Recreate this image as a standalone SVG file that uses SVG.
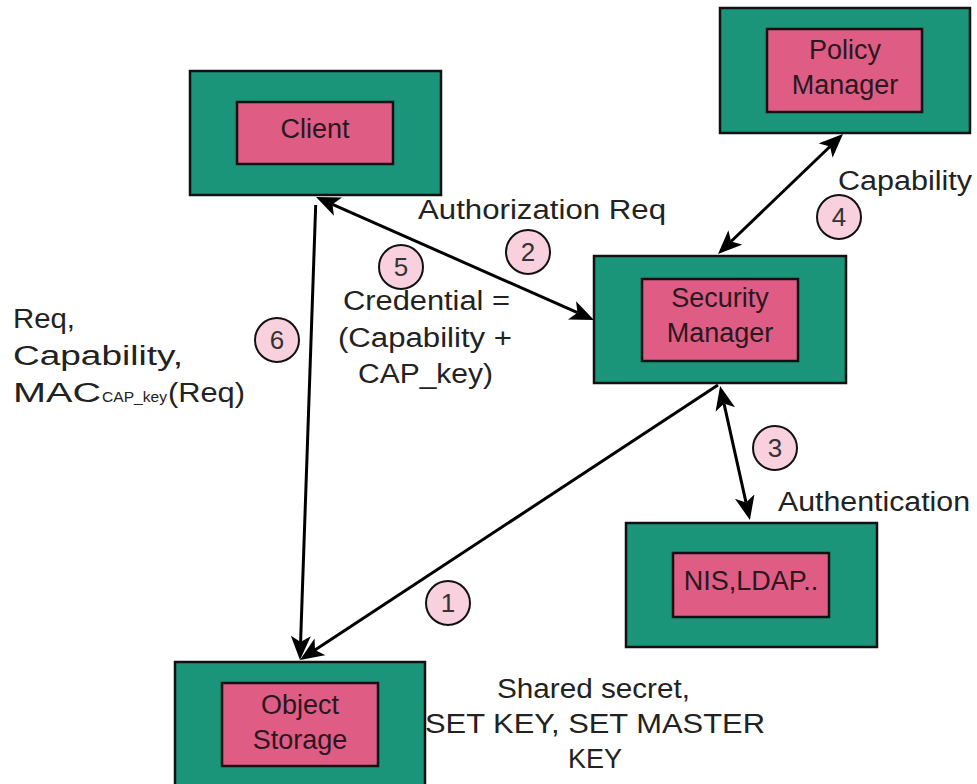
<svg xmlns="http://www.w3.org/2000/svg" width="977" height="784" viewBox="0 0 977 784">
  <style>
    .outer { fill: #1b957a; stroke: #111; stroke-width: 2.5; }
    .inner { fill: #df5c85; stroke: #111; stroke-width: 2.5; }
    .ntext { font-family: "Liberation Sans", Arial, sans-serif; font-size: 27px; fill: #2a1820; text-anchor: middle; }
    .label { font-family: "Liberation Sans", Arial, sans-serif; font-size: 27px; fill: #222; }
    .sub { font-family: "Liberation Sans", Arial, sans-serif; font-size: 15.5px; fill: #222; }
    .mid { text-anchor: middle; }
    .edge { stroke: #000; stroke-width: 3; fill: none; }
    .step circle { fill: #f9d0de; stroke: #111; stroke-width: 2; }
    .step text { font-family: "Liberation Sans", Arial, sans-serif; font-size: 26px; fill: #333; text-anchor: middle; }
  </style>
  <defs>
    <marker id="arrow" markerUnits="userSpaceOnUse" markerWidth="26" markerHeight="22" refX="6" refY="10" orient="auto-start-reverse">
      <path d="M0,0 L24,10 L0,20 L6,10 z" fill="#000"/>
    </marker>
  </defs>

  <rect width="977" height="784" fill="#fff"/>

  <!-- connectors -->
  <g id="connectors">
    <line class="edge" x1="332.5" y1="204.3" x2="577.5" y2="312.7" marker-start="url(#arrow)" marker-end="url(#arrow)"/>
    <line class="edge" x1="315.7" y1="205" x2="300.6" y2="642" marker-end="url(#arrow)"/>
    <line class="edge" x1="718" y1="385" x2="315" y2="650.1" marker-end="url(#arrow)"/>
    <line class="edge" x1="731" y1="241.5" x2="830" y2="146.5" marker-start="url(#arrow)" marker-end="url(#arrow)"/>
    <line class="edge" x1="724" y1="403.6" x2="746" y2="502.4" marker-start="url(#arrow)" marker-end="url(#arrow)"/>
  </g>

  <!-- nodes -->
  <g id="client">
    <rect class="outer" x="190" y="71" width="251" height="124"/>
    <rect class="inner" x="237" y="102" width="156" height="62"/>
    <text class="ntext" x="315" y="138">Client</text>
  </g>
  <g id="policy-manager">
    <rect class="outer" x="720" y="8" width="250" height="125"/>
    <rect class="inner" x="767" y="29" width="155" height="83"/>
    <text class="ntext" x="845" y="59">Policy</text>
    <text class="ntext" x="845" y="94">Manager</text>
  </g>
  <g id="security-manager">
    <rect class="outer" x="594" y="256" width="252" height="127"/>
    <rect class="inner" x="642" y="279" width="156" height="82"/>
    <text class="ntext" x="720" y="307">Security</text>
    <text class="ntext" x="720" y="342">Manager</text>
  </g>
  <g id="directory">
    <rect class="outer" x="626" y="523" width="251" height="124"/>
    <rect class="inner" x="673" y="553" width="156" height="64"/>
    <text class="ntext" x="751" y="590">NIS,LDAP..</text>
  </g>
  <g id="object-storage">
    <rect class="outer" x="175" y="662" width="250" height="140"/>
    <rect class="inner" x="222" y="683" width="156" height="83"/>
    <text class="ntext" x="300" y="714">Object</text>
    <text class="ntext" x="300" y="749">Storage</text>
  </g>

  <!-- step numbers -->
  <g class="step" id="step1"><circle cx="448" cy="603" r="22"/><text x="448" y="612">1</text></g>
  <g class="step" id="step2"><circle cx="528" cy="252" r="22"/><text x="528" y="261">2</text></g>
  <g class="step" id="step3"><circle cx="775" cy="448" r="22"/><text x="775" y="457">3</text></g>
  <g class="step" id="step4"><circle cx="839" cy="217" r="22"/><text x="839" y="226">4</text></g>
  <g class="step" id="step5"><circle cx="401" cy="267" r="22"/><text x="401" y="276">5</text></g>
  <g class="step" id="step6"><circle cx="277" cy="340" r="22"/><text x="277" y="349">6</text></g>

  <!-- edge labels -->
  <g id="labels">
    <text class="label" x="418" y="219" textLength="248" lengthAdjust="spacingAndGlyphs">Authorization Req</text>
    <text class="label" x="838" y="190" textLength="134" lengthAdjust="spacingAndGlyphs">Capability</text>
    <text class="label" x="778" y="511" textLength="192" lengthAdjust="spacingAndGlyphs">Authentication</text>
    <text class="label" x="343" y="310" textLength="167" lengthAdjust="spacingAndGlyphs">Credential =</text>
    <text class="label" x="338" y="347" textLength="174" lengthAdjust="spacingAndGlyphs">(Capability +</text>
    <text class="label" x="358" y="383" textLength="135" lengthAdjust="spacingAndGlyphs">CAP_key)</text>
    <text class="label" x="13" y="328" textLength="62" lengthAdjust="spacingAndGlyphs">Req,</text>
    <text class="label" x="13" y="365" textLength="170" lengthAdjust="spacingAndGlyphs">Capability,</text>
    <text class="label" x="13" y="402" textLength="88" lengthAdjust="spacingAndGlyphs">MAC</text>
    <text class="sub" x="102" y="402" textLength="65" lengthAdjust="spacingAndGlyphs">CAP_key</text>
    <text class="label" x="168" y="402" textLength="77" lengthAdjust="spacingAndGlyphs">(Req)</text>
    <text class="label" x="497" y="698" textLength="193" lengthAdjust="spacingAndGlyphs">Shared secret,</text>
    <text class="label" x="425" y="733" textLength="340" lengthAdjust="spacingAndGlyphs">SET KEY, SET MASTER</text>
    <text class="label mid" x="595" y="768">KEY</text>
  </g>
</svg>
